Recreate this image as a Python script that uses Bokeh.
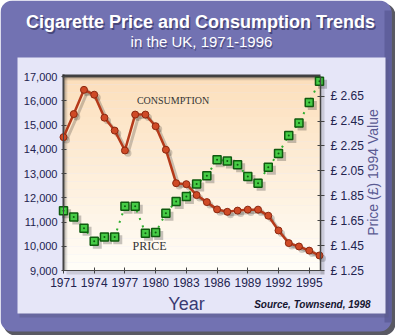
from bokeh.plotting import figure
from bokeh.models import (Range1d, LinearAxis, FixedTicker, NumeralTickFormatter,
                          PrintfTickFormatter, Label, BoxAnnotation, ColumnDataSource)
from bokeh.transform import dodge
from bokeh.embed import file_html
from bokeh.resources import INLINE

# ---- data ----
years = list(range(1971, 1997))
consumption = [14500, 15450, 16450, 16250, 15300, 14770, 13950, 15430, 15430, 14950,
               13980, 12600, 12560, 12110, 11820, 11520, 11420, 11470, 11510, 11510,
               11260, 10650, 10130, 9990, 9820, 9620]
price = [1.73, 1.68, 1.59, 1.485, 1.52, 1.52, 1.765, 1.765, 1.55, 1.555,
         1.71, 1.805, 1.845, 1.945, 2.01, 2.14, 2.13, 2.10, 2.005, 1.95,
         2.08, 2.19, 2.335, 2.435, 2.60, 2.77]
year_ticks = [1971, 1974, 1977, 1980, 1983, 1986, 1989, 1992, 1995]
cons_ticks = [9000, 10000, 11000, 12000, 13000, 14000, 15000, 16000, 17000]
price_ticks = [1.25, 1.45, 1.65, 1.85, 2.05, 2.25, 2.45, 2.65]

src = ColumnDataSource(dict(year=years, cons=consumption, price=price))

# ---- geometry (canvas pixels) ----
W, H = 395, 335
FL, FR, FT, FB = 63, 320, 76, 270          # plot area
X0, X1 = 1971, 1996.1
Y0, Y1 = 9000, 17000
P0, P1 = 1.25, 2.808
XS = (FR - FL) / (X1 - X0)
YS = (FB - FT) / (Y1 - Y0)
PS = (FB - FT) / (P1 - P0)

xr = Range1d(X0 - FL / XS, X0 + (W - FL) / XS)
yr = Range1d(Y0 - (H - FB) / YS, Y1 + FT / YS)
pr = Range1d(P0 - (H - FB) / PS, P1 + FT / PS)

def dx(px):
    return xr.start + px / XS

def dy(py):
    return yr.start + (H - py) / YS

p = figure(width=W, height=H, output_backend="svg", toolbar_location=None,
           x_range=xr, y_range=yr, min_border=0,
           min_border_left=0, min_border_right=0, min_border_top=0, min_border_bottom=0,
           border_fill_color="#ffffff", background_fill_color="#ffffff")
p.extra_y_ranges = {"price": pr}
p.grid.visible = False
p.outline_line_color = None

# ---- decorative background ----
def box(l, r, t, b, color, alpha=1.0, radius=0, level="underlay"):
    ba = BoxAnnotation(left=dx(l), right=dx(r), top=dy(t), bottom=dy(b),
                       fill_color=color, fill_alpha=alpha, line_color=None,
                       level=level, border_radius=radius)
    p.add_layout(ba)

box(3, 395, 3, 335, "#3c3c48", 0.85, 12)    # outer shadow
box(0, 391, 0, 331, "#7272b2", 1.0, 12)     # purple panel
box(384, 391, 10, 322, "#5f5f9c", 1.0, 0)
box(19, 388, 59, 317, "#5a5a88", 0.45)      # lavender panel shadow
box(17, 385, 57, 313, "#e6e6f8")            # lavender panel
# plot area gradient
N = 24
c0 = (252, 223, 188)
c1 = (255, 253, 247)
for i in range(N):
    t = i / (N - 1)
    col = "#%02x%02x%02x" % tuple(int(round(c0[k] + (c1[k] - c0[k]) * t)) for k in range(3))
    top = FT + (FB - FT) * i / N
    bot = FT + (FB - FT) * (i + 1) / N
    box(FL, FR, top, bot, col)
# plot frame shadow (top and left)
box(FL + 3, FR + 4, FB, FB + 4, "#000000", 0.12)
box(FR, FR + 4, FT + 3, FB + 4, "#000000", 0.12)
box(FL - 1, FR, FT - 2, FT + 1, "#2e2e2e", 0.9)
box(FL - 1, FL + 1, FT - 2, FB, "#2e2e2e", 0.9)
for k, a in enumerate([0.3, 0.18, 0.08]):
    box(FL + 1, FR, FT + 1 + k, FT + 2 + k, "#202020", a)
    box(FL + 1 + k, FL + 2 + k, FT + 1, FB, "#202020", a)

# ---- axes (placed at the plot-area edges) ----
tick_color = "#23234f"
xa = p.xaxis[0]
xa.fixed_location = Y0
xa.bounds = (X0, X1)
xa.ticker = FixedTicker(ticks=year_ticks)
xa.major_label_text_font_size = "12px"
xa.major_label_text_color = tick_color
xa.major_label_text_font = "Liberation Sans"
xa.major_tick_in = 3
xa.major_tick_out = 3
xa.minor_tick_line_color = None
xa.axis_line_color = "#444444"
xa.major_tick_line_color = "#444444"
xa.major_label_standoff = 4

ya = p.yaxis[0]
ya.fixed_location = X0
ya.bounds = (Y0, Y1)
ya.ticker = FixedTicker(ticks=cons_ticks)
ya.formatter = NumeralTickFormatter(format="0,0")
ya.major_label_text_font_size = "11px"
ya.major_label_text_color = tick_color
ya.major_label_text_font = "Liberation Sans"
ya.major_tick_in = 3
ya.major_tick_out = 2
ya.minor_tick_line_color = None
ya.axis_line_color = "#444444"
ya.major_tick_line_color = "#444444"
ya.major_label_standoff = 4

ry = LinearAxis(y_range_name="price", ticker=FixedTicker(ticks=price_ticks),
                formatter=PrintfTickFormatter(format="£ %.2f"),
                fixed_location=X1, bounds=(P0, P1))
ry.major_label_text_font_size = "12px"
ry.major_label_text_color = tick_color
ry.major_label_text_font = "Liberation Sans"
ry.major_tick_in = 3
ry.major_tick_out = 4
ry.minor_tick_line_color = None
ry.axis_line_color = "#444444"
ry.axis_line_width = 1.5
ry.major_tick_line_color = "#444444"
ry.major_label_standoff = 6
p.add_layout(ry, "right")

# ---- consumption series ----
sx = dodge("year", 0.3)
p.line(sx, dodge("cons", -120), source=src, line_color="#000000", line_alpha=0.2, line_width=3)
p.scatter(sx, dodge("cons", -120), source=src, size=7, fill_color="#000000",
          fill_alpha=0.18, line_color=None)
p.line("year", "cons", source=src, line_color="#b53a1a", line_width=2.5)
p.scatter("year", "cons", source=src, size=7, fill_color="#cf4a26",
          line_color="#8a2810", line_width=1)

# ---- price series ----
p.scatter(sx, dodge("price", -0.024), source=src, y_range_name="price", marker="square",
          size=9, fill_color="#000000", fill_alpha=0.22, line_color=None)
p.line("year", "price", source=src, y_range_name="price", line_color="#2fae2f",
       line_width=2, line_dash="2 6")
p.scatter("year", "price", source=src, y_range_name="price", marker="square_dot",
          size=8, fill_color="#46cc46", line_color="#0f5a0f", line_width=1.5)

# ---- texts ----
def label(x, y, text, size, color, style="normal", font="Liberation Sans",
          align="center", angle=0, xo=0, yo=0, alpha=1.0):
    p.add_layout(Label(x=x, y=y, text=text, text_font=font, text_font_size=size,
                       text_color=color, text_font_style=style, text_align=align,
                       text_baseline="middle", angle=angle, angle_units="deg",
                       x_offset=xo, y_offset=yo, text_alpha=alpha))

label(dx(200), dy(21), "Cigarette Price and Consumption Trends", "18px", "#2a2a55",
      "bold", xo=1.5, yo=-2, alpha=0.6)
label(dx(200), dy(21), "Cigarette Price and Consumption Trends", "18px", "#ffffff", "bold")
label(dx(201), dy(41), "in the UK, 1971-1996", "15px", "#2a2a55", xo=1, yo=-1.5, alpha=0.5)
label(dx(201), dy(41), "in the UK, 1971-1996", "15px", "#ffffff")

label(dx(186), dy(303), "Year", "18px", "#3a3a72")
label(dx(370), dy(304), "Source, Townsend, 1998", "10px", "#151530", "bold italic",
      align="right")
label(dx(372), dy(172), "Price (£) 1994 Value", "14px", "#5a5a92", angle=90)

label(1981.7, 16000, "CONSUMPTION", "10px", "#333333", font="Liberation Serif")
label(1979.4, 10030, "PRICE", "12px", "#333333", font="Liberation Serif")

open("out.html", "w").write(file_html(p, INLINE))
